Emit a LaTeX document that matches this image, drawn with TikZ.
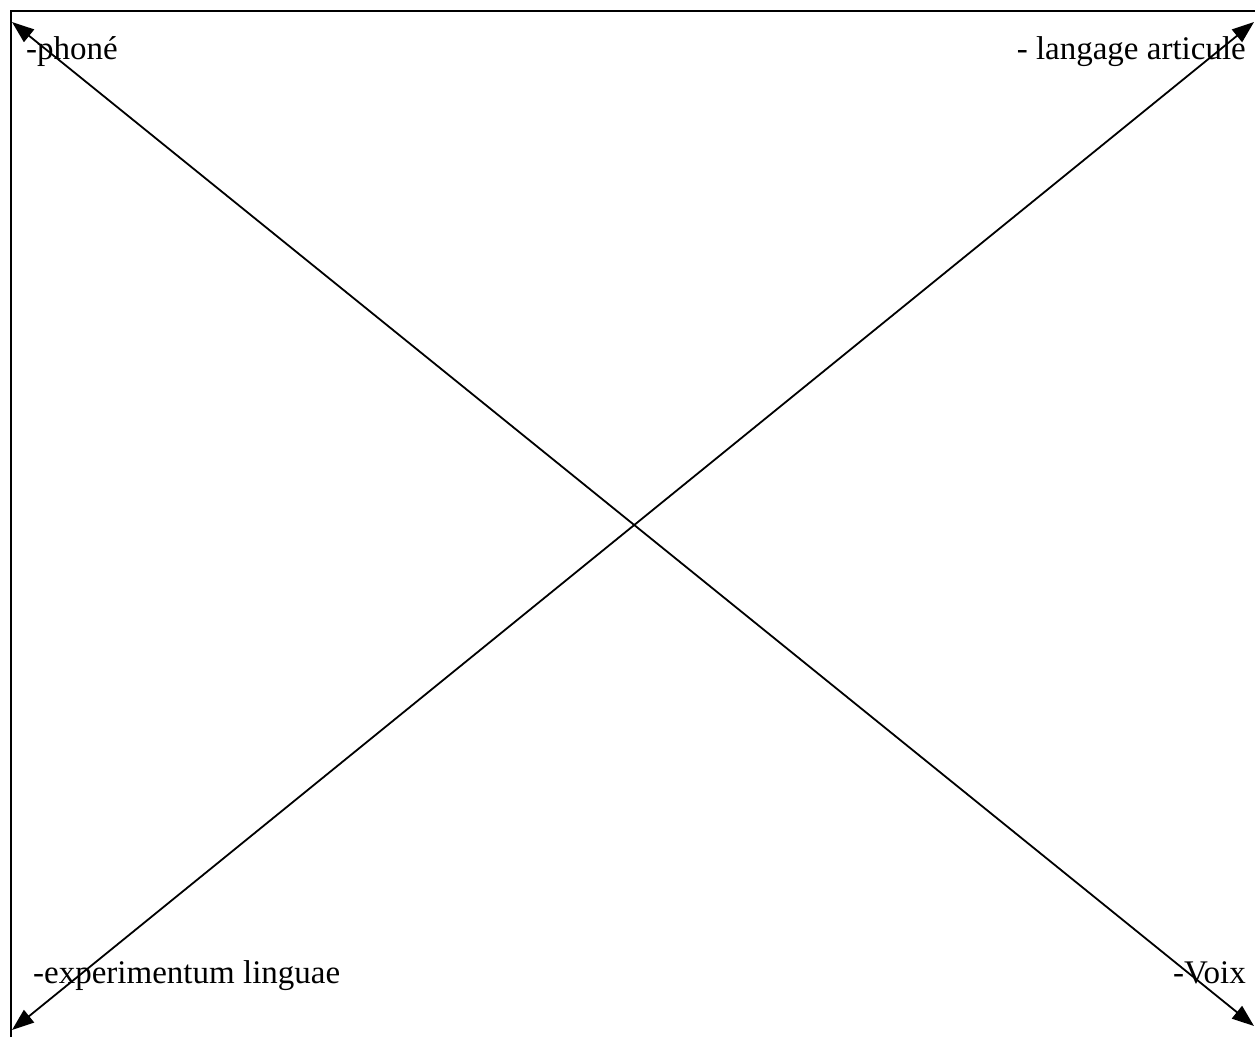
\documentclass[tikz,border=0pt]{standalone}
\usepackage{fontspec}
\setmainfont{Liberation Serif}
\usetikzlibrary{arrows.meta}
\begin{document}
\begin{tikzpicture}[x=1pt,y=-1pt,
  lbl/.style={inner sep=0pt,font=\fontsize{33}{38}\selectfont},
  dblarrow/.style={line width=1.8pt,{Triangle[length=22pt,width=16pt]}-{Triangle[length=22pt,width=16pt]}},
  frame/.style={line width=2pt}]
\useasboundingbox (0,0) rectangle (1255,1037);
\draw[frame] (11,1037) -- (11,11) -- (1255,11);
\coordinate (tl) at (12,22);
\coordinate (br) at (1254,1026);
\coordinate (bl) at (12,1030);
\coordinate (tr) at (1254,22);
\draw[dblarrow] (tl) -- (br);
\draw[dblarrow] (bl) -- (tr);
\node[lbl,anchor=base west] (phone) at (26,59) {-phoné};
\node[lbl,anchor=base east] (lang) at (1246,59) {- langage articule};
\node[lbl,anchor=base west] (exp) at (33,983) {-experimentum linguae};
\node[lbl,anchor=base east] (voix) at (1246,983) {-Voix};
\end{tikzpicture}
\end{document}
